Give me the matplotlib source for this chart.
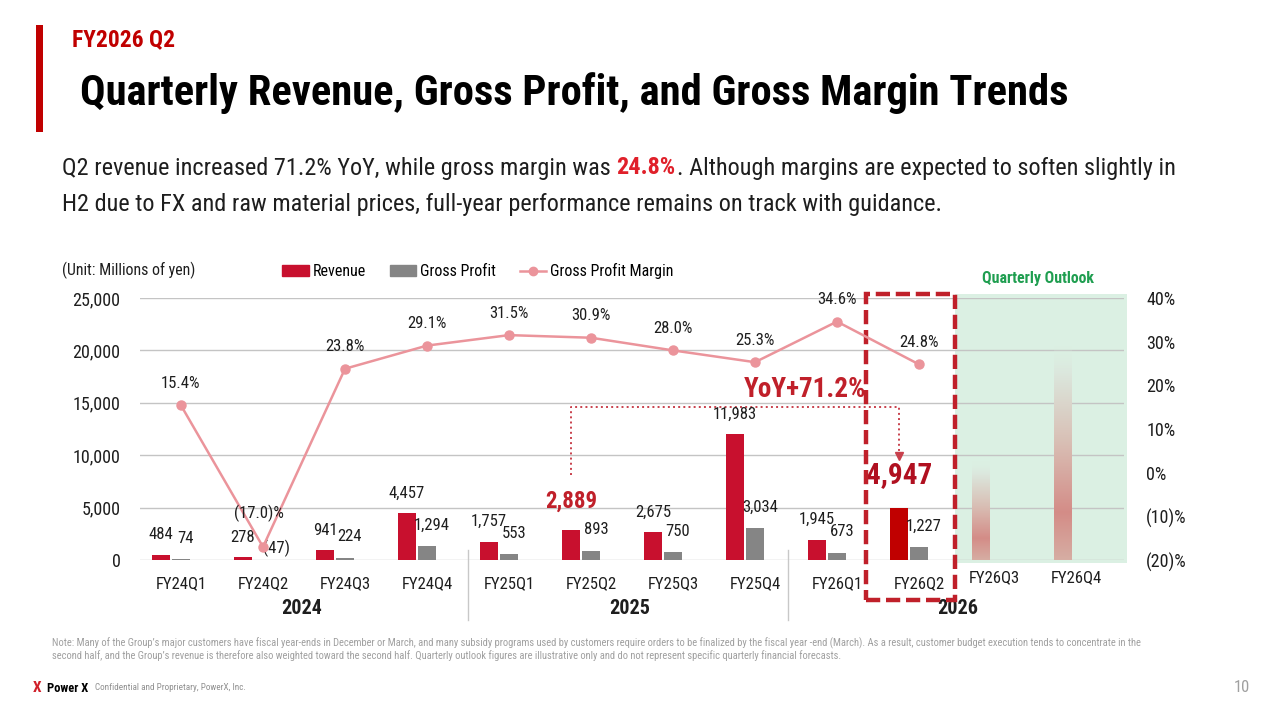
import matplotlib
matplotlib.use('Agg')
import matplotlib.pyplot as plt
import numpy as np
from matplotlib import font_manager
from matplotlib.patches import Rectangle
from matplotlib.lines import Line2D
from matplotlib.transforms import blended_transform_factory

# ---------------- data ----------------
categories = ['FY24Q1', 'FY24Q2', 'FY24Q3', 'FY24Q4', 'FY25Q1', 'FY25Q2',
              'FY25Q3', 'FY25Q4', 'FY26Q1', 'FY26Q2', 'FY26Q3', 'FY26Q4']
revenue = [484, 278, 941, 4457, 1757, 2889, 2675, 11983, 1945, 4947]
gross_profit = [74, -47, 224, 1294, 553, 893, 750, 3034, 673, 1227]
gross_margin = [15.4, -17.0, 23.8, 29.1, 31.5, 30.9, 28.0, 25.3, 34.6, 24.8]
outlook = [9400, 20500]          # illustrative FY26Q3, FY26Q4
years = ['2024', '2025', '2026']
year_groups = [[0, 1, 2, 3], [4, 5, 6, 7], [8, 9, 10, 11]]
left_ticks = [0, 5000, 10000, 15000, 20000, 25000]
right_ticks = [-20, -10, 0, 10, 20, 30, 40]
prev_q, cur_q = 5, 9             # FY25Q2 vs FY26Q2

title_small = 'FY2026 Q2'
title = 'Quarterly Revenue, Gross Profit, and Gross Margin Trends'
sub1a = 'Q2 revenue increased 71.2% YoY, while gross margin was'
sub1b = '24.8%'
sub1c = '. Although margins are expected to soften slightly in'
sub2 = 'H2 due to FX and raw material prices, full-year performance remains on track with guidance.'
note1 = ('Note: Many of the Group\u2019s major customers have fiscal year-ends in December or March, and many subsidy '
         'programs used by customers require orders to be finalized by the fiscal year -end (March). As a result, '
         'customer budget execution tends to concentrate in the')
note2 = ('second half, and the Group\u2019s revenue is therefore also weighted toward the second half. Quarterly '
         'outlook figures are illustrative only and do not represent specific quarterly financial forecasts.')

# ---------------- fonts ----------------
def choose_font():
    entries = font_manager.fontManager.ttflist
    names = {e.name for e in entries}
    for n in ['Roboto Condensed', 'Noto Sans Condensed', 'Open Sans Condensed',
              'DejaVu Sans Condensed', 'Liberation Sans Narrow']:
        if n in names:
            return n, 'normal', True
    for n in ['Roboto', 'Noto Sans', 'Open Sans', 'DejaVu Sans']:
        if any(e.name == n and str(e.stretch).lower() in ('condensed', 'semi-condensed', '75', '87')
               for e in entries):
            return n, 'condensed', True
    return ('Roboto' if 'Roboto' in names else 'DejaVu Sans'), 'normal', False

FAM, STRETCH, CONDENSED = choose_font()
plt.rcParams['font.family'] = [FAM, 'DejaVu Sans']
plt.rcParams['font.stretch'] = STRETCH
S = 1.0 if CONDENSED else 0.84
LS = 12 * S   # general label size

RED = '#c8102e'
DARKRED = '#c00000'
BOXRED = '#c0202a'
GRAY = '#858585'
LINE = '#eb949b'
GREEN_BG = '#dbf0e3'
TXT = '#1e1e1e'

W, H = 1280, 720
fig = plt.figure(figsize=(12.8, 7.2), dpi=100)
fig.patch.set_facecolor('white')
R = fig.canvas.get_renderer()

def fx(px):
    return px / W

def fy(py):
    return 1 - py / H

def width(t):
    return t.get_window_extent(R).width

def fit(t, target):
    t.set_fontsize(t.get_fontsize() * target / width(t))

# ---------------- header ----------------
fig.add_artist(Rectangle((fx(36), fy(132)), 7 / W, 107 / H, transform=fig.transFigure,
                         color='#c00000', lw=0))
t = fig.text(fx(72), fy(40), title_small, ha='left', va='center', fontsize=20,
             fontweight='bold', color='#c00000')
fit(t, 103)
t = fig.text(fx(80), fy(93), title, ha='left', va='center', fontsize=36,
             fontweight='bold', color='black')
fit(t, 988)

# subtitle (mixed styling)
ta = fig.text(fx(62), fy(168), sub1a, ha='left', va='center', fontsize=18, color=TXT)
tb = fig.text(fx(62), fy(168), sub1b, ha='left', va='center', fontsize=18, color='#e0202a',
              fontweight='bold')
tc = fig.text(fx(62), fy(168), sub1c, ha='left', va='center', fontsize=18, color=TXT)
probe1 = fig.text(0, 0, 'a a', fontsize=18)
probe2 = fig.text(0, 0, 'aa', fontsize=18)
sp = width(probe1) - width(probe2)
probe1.remove(); probe2.remove()
total = width(ta) + sp + width(tb) + width(tc)
k = 1115 / total
for tt in (ta, tb, tc):
    tt.set_fontsize(18 * k)
sp *= k
xa = 62
tb.set_x(fx(xa + width(ta) + sp))
tc.set_x(fx(xa + width(ta) + sp + width(tb) + 1))
fig.text(fx(62), fy(205), sub2, ha='left', va='center', fontsize=18 * k, color=TXT)

# ---------------- main axes ----------------
ax = fig.add_axes([fx(140), fy(560), (1124 - 140) / W, 262 / H])
ax2 = ax.twinx()
trans = blended_transform_factory(ax.transData, ax.transAxes)

n_act = len(revenue)
x_act = np.arange(n_act)
BW, OFF = 0.21, 0.244

# outlook shaded region
ax.add_patch(Rectangle((9.44, -0.011), 11.54 - 9.44, 1.026, transform=trans,
                       color=GREEN_BG, lw=0, zorder=0.2, clip_on=False))

rev_colors = [RED] * n_act
rev_colors[cur_q] = DARKRED
ax.bar(x_act - OFF, revenue, BW, color=rev_colors, zorder=3, label='Revenue')
ax.bar(x_act, gross_profit, BW, color=GRAY, zorder=3, label='Gross Profit')

# ghost outlook bars with vertical gradient
stops = [0.0, 0.12, 0.45, 0.78, 1.0]
cols = np.array([[0.86, 0.94, 0.89, 0.0],
                 [0.86, 0.91, 0.87, 1.0],
                 [0.85, 0.75, 0.71, 1.0],
                 [0.83, 0.55, 0.53, 1.0],
                 [0.84, 0.68, 0.64, 1.0]])
pos = np.linspace(0, 1, 200)
grad = np.stack([np.interp(pos, stops, cols[:, c]) for c in range(4)], axis=-1)[:, None, :]
for i, v in enumerate(outlook):
    xo = n_act + i - OFF
    ax.imshow(grad, extent=[xo - BW / 2, xo + BW / 2, 0, v], aspect='auto',
              origin='upper', zorder=2, interpolation='bilinear')

ax.set_xlim(-0.5, len(categories) - 0.5)
ax.set_ylim(0, 25000)
ax.set_yticks(left_ticks)
ax.set_yticklabels([f'{v:,}' for v in left_ticks])
ax.set_axisbelow(True)
ax.grid(axis='y', color='#c4c4c4', lw=1)
ax.set_xticks(range(len(categories)))
ax.set_xticklabels(categories[:n_act] + [''] * (len(categories) - n_act))
ax.tick_params(axis='y', length=0, pad=14, labelsize=13 * S, labelcolor=TXT)
ax.tick_params(axis='x', length=0, pad=11.5, labelsize=LS, labelcolor=TXT)
for i in range(n_act, len(categories)):
    ax.annotate(categories[i], xy=(i, 0), xycoords=trans, xytext=(-5, -13),
                textcoords='offset points', ha='center', va='center',
                fontsize=LS, color=TXT)
for s in ax.spines.values():
    s.set_visible(False)

# data labels
px = 72 / 100  # points per pixel
for i, v in enumerate(revenue):
    hl = i in (prev_q, cur_q)
    size = (21 if i == cur_q else 16.5) * S if hl else LS
    off = 33 if i == cur_q else (28 if hl else 20)
    ax.annotate(f'{v:,}', xy=(i - OFF, v), xytext=(0, off * px), textcoords='offset points',
                ha='center', va='center', fontsize=size,
                fontweight='bold' if hl else 'normal',
                color=('#b01020' if i == cur_q else BOXRED) if hl else TXT, zorder=7)
for i, v in enumerate(gross_profit):
    if v < 0:
        ax.annotate(f'({abs(v):,})', xy=(i, 0), xytext=(13 * px, 12 * px),
                    textcoords='offset points', ha='center', va='center',
                    fontsize=LS, color=TXT, zorder=7)
    else:
        ax.annotate(f'{v:,}', xy=(i + 0.06, v), xytext=(0, 21 * px),
                    textcoords='offset points', ha='center', va='center',
                    fontsize=LS, color=TXT, zorder=7)

# year labels and separators
for yl, grp in zip(years, year_groups):
    ax.annotate(yl, xy=(np.mean(grp), 0), xycoords=trans, xytext=(-2 * px, -49 * px),
                textcoords='offset points', ha='center', va='center',
                fontsize=14.5 * S, fontweight='bold', color=TXT)
for xs in (3.5, 7.4):
    ax.plot([xs, xs], [0.038, -0.229], transform=trans, color='#c8c8c8', lw=1,
            clip_on=False, zorder=1)

# YoY connector
yoy = revenue[cur_q] / revenue[prev_q] - 1
ax.plot([prev_q - OFF, prev_q - OFF, cur_q - OFF, cur_q - OFF],
        [8100, 14600, 14600, 10300], ls=':', color='#c8404c', lw=1.4, zorder=6)
ax.plot([cur_q - OFF], [9950], marker='v', color='#c8404c', ms=6, zorder=6)
ax.text(7.61, 16250, f'YoY+{yoy * 100:.1f}%', ha='center', va='center',
        fontsize=19.5 * S, fontweight='bold', color=BOXRED, zorder=7)

# dashed highlight box
ax.add_patch(Rectangle((8.35, -0.153), 9.44 - 8.35, 1.015 + 0.153, transform=trans,
                       fill=False, ec=BOXRED, lw=3.2, ls=(0, (3.2, 1.3)),
                       clip_on=False, zorder=8))

# margin line
ax2.set_ylim(-20, 40)
ax2.set_yticks(right_ticks)
ax2.set_yticklabels([f'{v}%' if v >= 0 else f'({abs(v)})%' for v in right_ticks])
ax2.tick_params(axis='y', length=0, pad=16, labelsize=13 * S, labelcolor=TXT)
for s in ax2.spines.values():
    s.set_visible(False)
ax2.plot(x_act, gross_margin, color=LINE, lw=1.8, marker='o', ms=6.5,
         label='Gross Profit Margin', zorder=5)
for i, v in enumerate(gross_margin):
    lab = f'{v:.1f}%' if v >= 0 else f'({abs(v):.1f})%'
    off = 22 if v >= 0 else 34
    ax2.annotate(lab, xy=(i, v), xytext=(-4 * px if v < 0 else 0, off * px),
                 textcoords='offset points', ha='center', va='center',
                 fontsize=LS, color=TXT, zorder=7)

# legend
handles = [Rectangle((0, 0), 1, 1, color=RED), Rectangle((0, 0), 1, 1, color=GRAY),
           Line2D([], [], color=LINE, lw=1.8, marker='o', ms=6)]
fig.legend(handles, ['Revenue', 'Gross Profit', 'Gross Profit Margin'], loc='center',
           bbox_to_anchor=(fx(478), fy(271)), ncol=3, frameon=False, fontsize=11.5 * S,
           handlelength=1.65, handleheight=0.65, columnspacing=1.5, handletextpad=0.25)

fig.text(fx(62), fy(270), '(Unit: Millions of yen)', ha='left', va='center',
         fontsize=11.4 * S, color=TXT)
fig.text(fx(1038), fy(279), 'Quarterly Outlook', ha='center', va='center',
         fontsize=11.4 * S, fontweight='bold', color='#1f9e50')

# ---------------- footnotes ----------------
n1 = fig.text(fx(52), fy(643), note1, ha='left', va='center', fontsize=8, color='#a0a0a0')
scale = 1097 / width(n1)
n1.set_fontsize(8 * scale)
fig.text(fx(52), fy(656), note2, ha='left', va='center', fontsize=8 * scale, color='#a0a0a0')

fig.text(fx(33), fy(688), 'X', ha='left', va='center', fontsize=11, fontweight='bold',
         color='#d0202a')
fig.text(fx(47), fy(688), 'Power X', ha='left', va='center', fontsize=9 * S,
         fontweight='bold', color='black')
c = fig.text(fx(95), fy(688), 'Confidential and Proprietary, PowerX, Inc.', ha='left',
             va='center', fontsize=7, color='#909090')
fit(c, 151)
fig.text(fx(1250), fy(688), '10', ha='right', va='center', fontsize=12 * S, color='#a0a0a0')

fig.savefig('out.png', dpi=100, facecolor='white')
